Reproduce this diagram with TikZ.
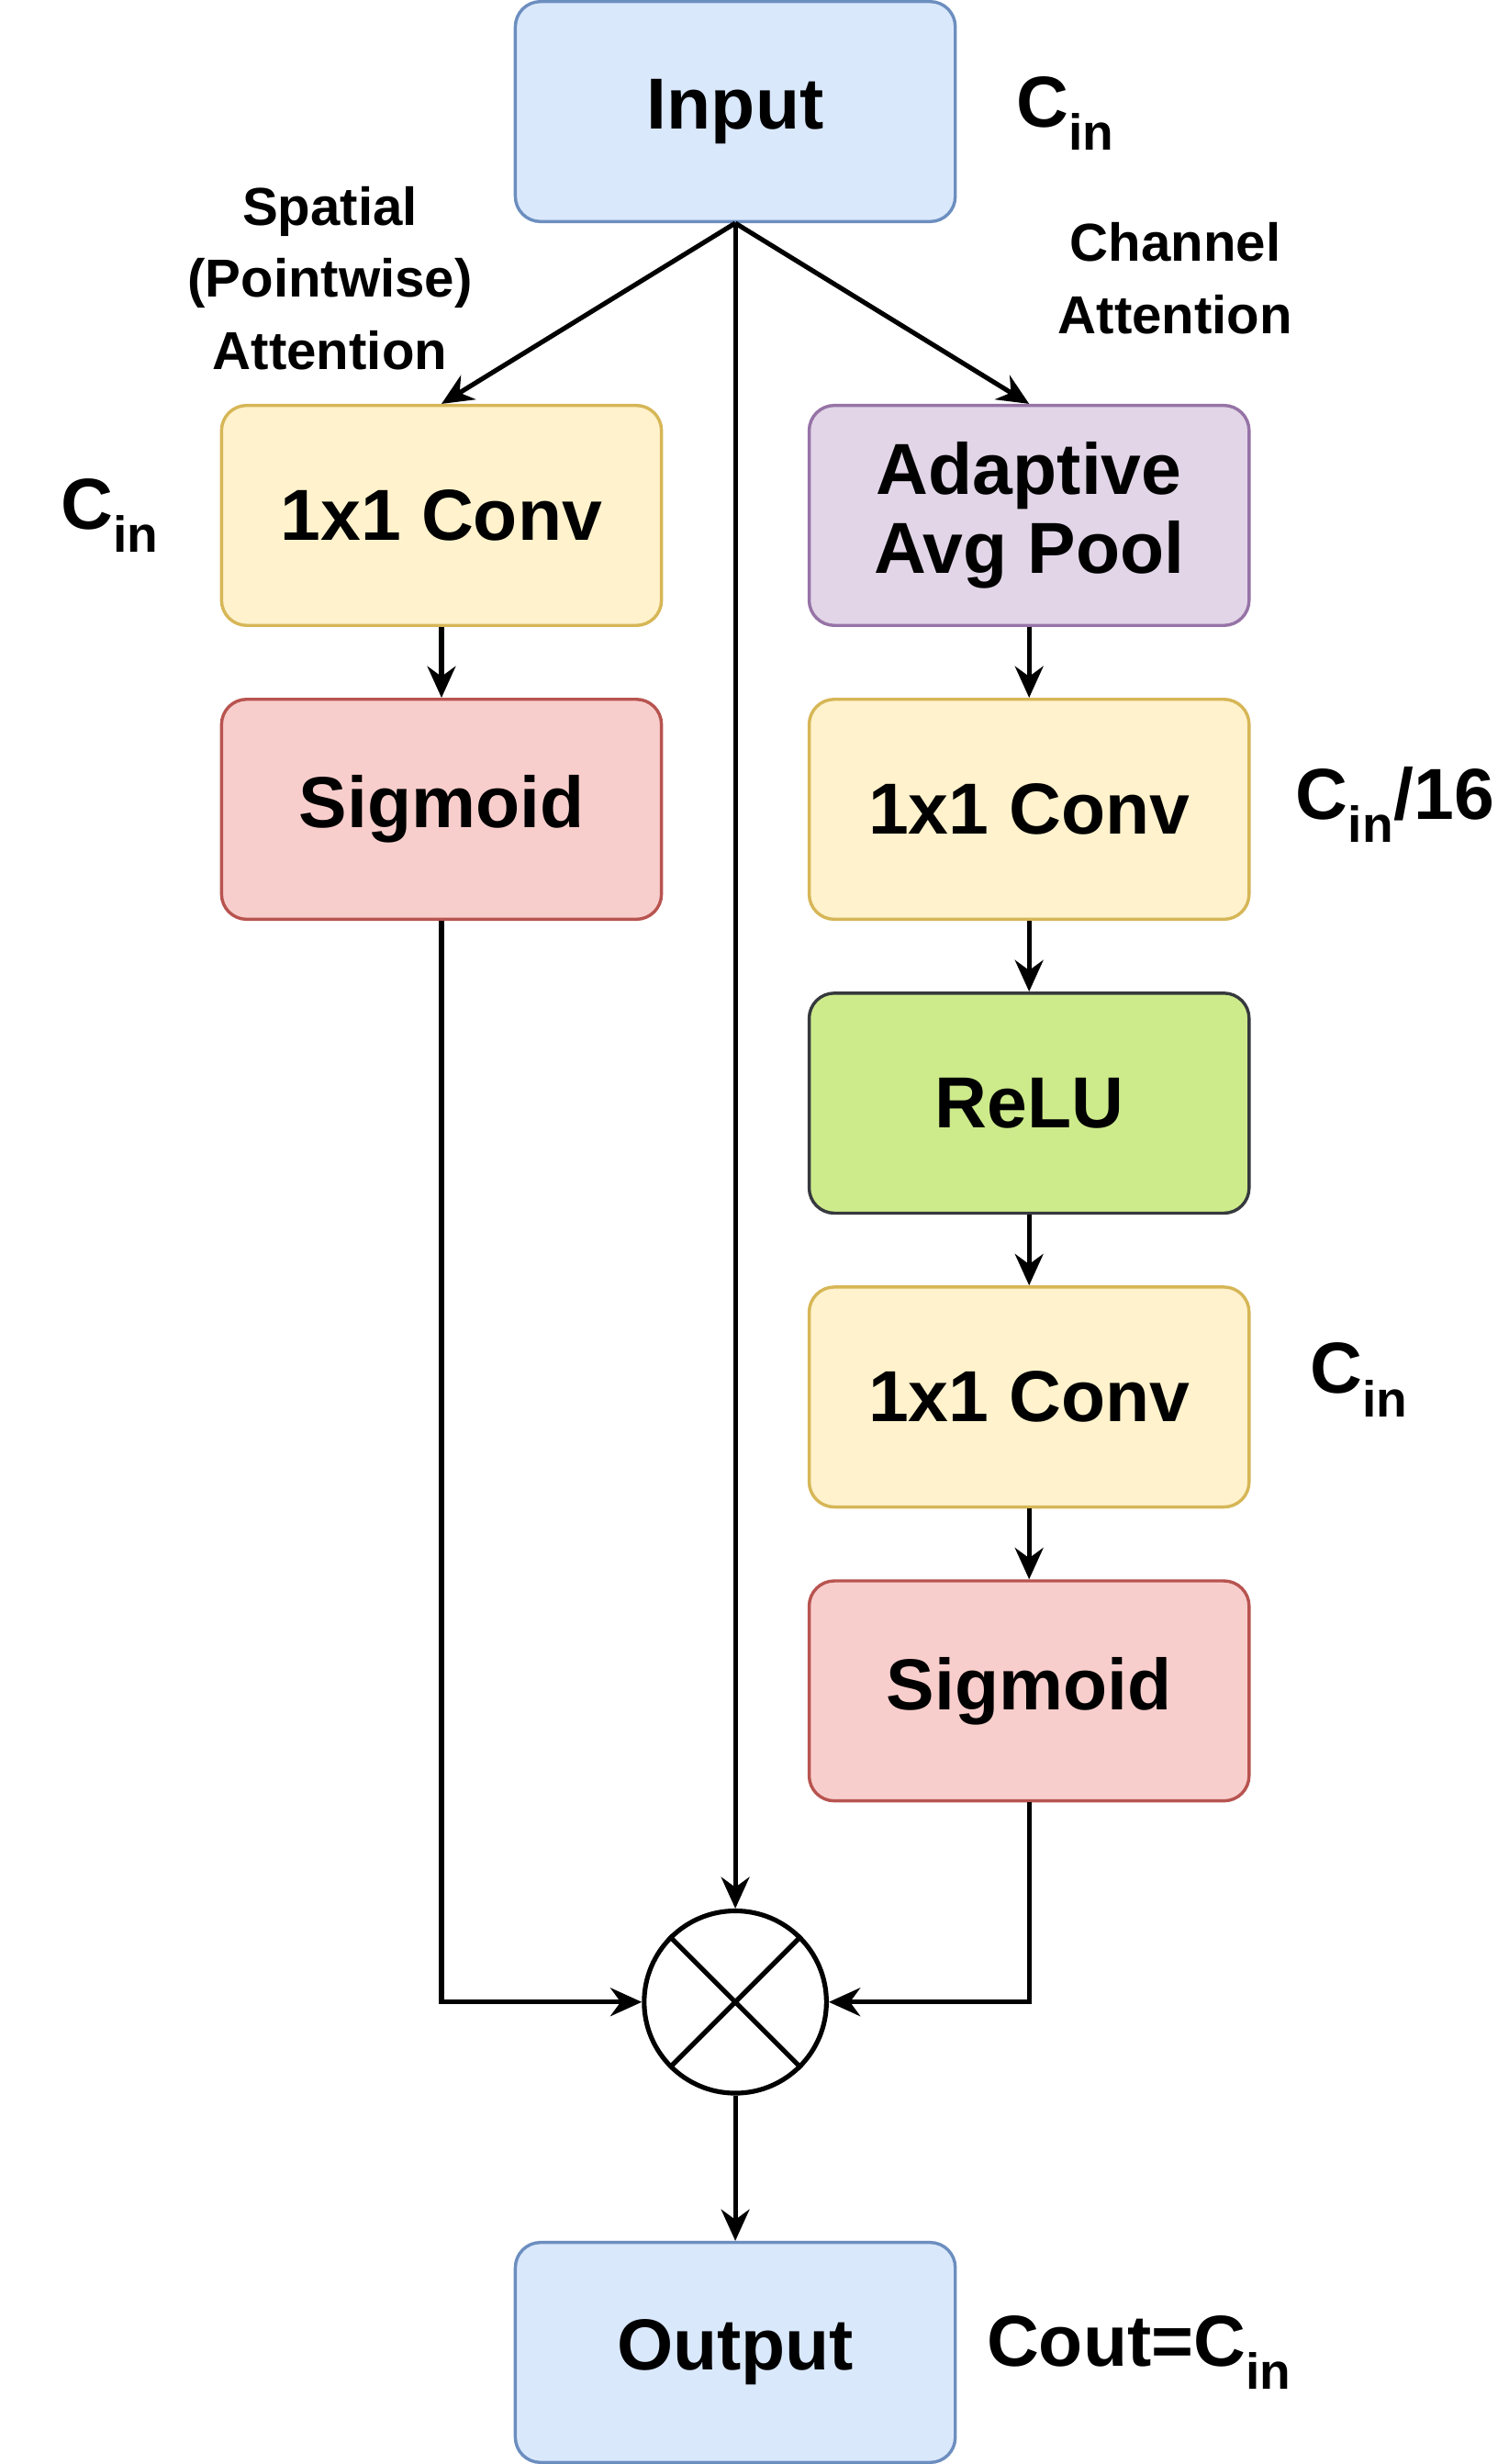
\documentclass[tikz,border=0pt]{standalone}
\usepackage{fontspec}
\setmainfont{Liberation Sans}
\usetikzlibrary{arrows.meta}
\definecolor{bluef}{HTML}{DAE8FC}\definecolor{bluec}{HTML}{6C8EBF}
\definecolor{yelf}{HTML}{FFF2CC}\definecolor{yelc}{HTML}{D6B656}
\definecolor{redf}{HTML}{F8CECC}\definecolor{redc}{HTML}{B85450}
\definecolor{purf}{HTML}{E1D5E7}\definecolor{purc}{HTML}{9673A6}
\definecolor{grnf}{HTML}{CDEB8B}\definecolor{grnc}{HTML}{36393D}
\begin{document}
\begin{tikzpicture}[x=1pt,y=-1pt,
  blk/.style={draw,line width=2pt,rounded corners=16pt,minimum width=280pt,minimum height=140pt,inner sep=0pt,align=center,font=\fontsize{46}{54}\selectfont\bfseries},
  lab/.style={font=\fontsize{34}{46}\selectfont\bfseries,align=center},
  clab/.style={font=\fontsize{46}{54}\selectfont\bfseries},
  arr/.style={line width=3pt,-{Stealth[length=20pt,width=18pt]}}]
\useasboundingbox (0,0) rectangle (960,1568);
\node[blk,fill=bluef,draw=bluec] (in) at (468,71) {Input};
\node[blk,fill=yelf,draw=yelc] (c1) at (281,328) {1x1 Conv};
\node[blk,fill=redf,draw=redc] (s1) at (281,515) {Sigmoid};
\node[blk,fill=purf,draw=purc] (ap) at (655,328) {Adaptive\\[-4pt]Avg Pool};
\node[blk,fill=yelf,draw=yelc] (c2) at (655,515) {1x1 Conv};
\node[blk,fill=grnf,draw=grnc] (re) at (655,702) {ReLU};
\node[blk,fill=yelf,draw=yelc] (c3) at (655,889) {1x1 Conv};
\node[blk,fill=redf,draw=redc] (s2) at (655,1076) {Sigmoid};
\node[blk,fill=bluef,draw=bluec] (out) at (468,1497) {Output};
\node[circle,draw,line width=3pt,minimum size=116pt,inner sep=0pt] (m) at (468,1274) {};
\draw[line width=3pt] (m.north west)--(m.south east) (m.north east)--(m.south west);
\node[clab] (l1) at (678,72) {C\textsubscript{in}};
\node[clab] (l2) at (70,328) {C\textsubscript{in}};
\node[clab] (l3) at (888,512) {C\textsubscript{in}/16};
\node[clab] (l4) at (865,878) {C\textsubscript{in}};
\node[clab] (l5) at (725,1497) {Cout=C\textsubscript{in}};
\node[lab] (t1) at (210,177) {Spatial\\(Pointwise)\\Attention};
\node[lab] (t2) at (748,177) {Channel\\Attention};
\draw[arr] (in.south) -- (c1.north);
\draw[arr] (in.south) -- (ap.north);
\draw[arr] (in.south) -- (m.north);
\draw[arr] (c1) -- (s1);
\draw[arr] (ap) -- (c2);
\draw[arr] (c2) -- (re);
\draw[arr] (re) -- (c3);
\draw[arr] (c3) -- (s2);
\draw[arr] (s1.south) |- (m.west);
\draw[arr] (s2.south) |- (m.east);
\draw[arr] (m.south) -- (out.north);
\end{tikzpicture}
\end{document}
